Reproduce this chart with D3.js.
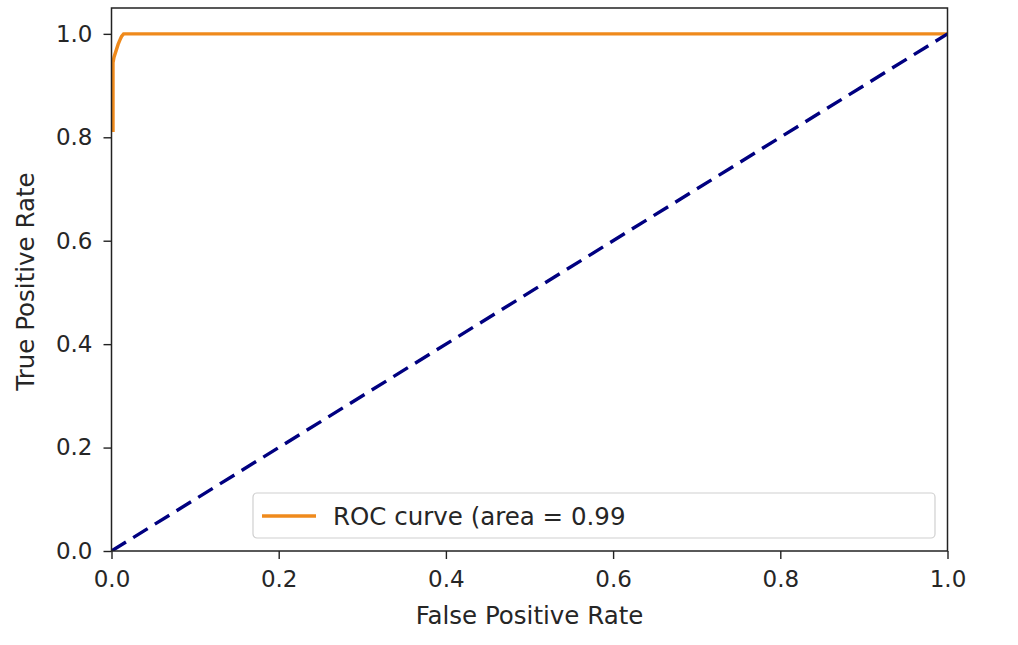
<!DOCTYPE html>
<html>
<head>
<meta charset="utf-8">
<script src="https://cdn.jsdelivr.net/npm/d3@7"></script>
<style>
  body { margin: 0; background: #fff; }
  text { font-family: "DejaVu Sans", sans-serif; fill: #262626; }
</style>
</head>
<body>
<div class="svgContainer"></div>
<script>
// ROC curve points
var fpr = [0.0018, 0.0018, 0.003, 0.006, 0.008, 0.010, 0.012, 0.0145, 0.3, 0.6, 1.0];
var tpr = [0.81, 0.944, 0.955, 0.97, 0.98, 0.988, 0.995, 1.0, 1.0, 1.0, 1.0];
var chanceX = [0, 1];
var chanceY = [0, 1];
var xTicks = [0, 0.2, 0.4, 0.6, 0.8, 1.0];
var yTicks = [0, 0.2, 0.4, 0.6, 0.8, 1.0];
var legendLabel = 'ROC curve (area = 0.99';

var w = 1018;
var h = 645;
var padL = 111.5, padR = 947.5, padT = 8, padB = 551;

var svg = d3.select(".svgContainer")
            .append("svg")
            .attr("width", w)
            .attr("height", h);

var xScale = d3.scaleLinear()
               .domain([0, 1])
               .range([padL, padR]);

var yScale = d3.scaleLinear()
               .domain([0, 1.05])
               .range([padB, padT]);

svg.append("defs")
   .append("clipPath")
   .attr("id", "plotClip")
   .append("rect")
   .attr("x", padL)
   .attr("y", padT)
   .attr("width", padR - padL)
   .attr("height", padB - padT);

var line = d3.line()
             .x(function (d) { return xScale(d[0]); })
             .y(function (d) { return yScale(d[1]); });

var plot = svg.append("g").attr("clip-path", "url(#plotClip)");

plot.append("path")
    .datum(fpr.map(function (d, i) { return [d, tpr[i]]; }))
    .attr("d", line)
    .attr("fill", "none")
    .attr("stroke", "#ef8a1c")
    .attr("stroke-width", 3.4);

plot.append("path")
    .datum(chanceX.map(function (d, i) { return [d, chanceY[i]]; }))
    .attr("d", line)
    .attr("fill", "none")
    .attr("stroke", "#000080")
    .attr("stroke-width", 3.4)
    .attr("stroke-dasharray", "17,8.5");

// axes
var xAxis = d3.axisBottom(xScale)
              .tickValues(xTicks)
              .tickFormat(d3.format(".1f"))
              .tickSize(8)
              .tickPadding(12)
              .tickSizeOuter(0);

var yAxis = d3.axisLeft(yScale)
              .tickValues(yTicks)
              .tickFormat(d3.format(".1f"))
              .tickSize(8)
              .tickPadding(11)
              .tickSizeOuter(0);

var gx = svg.append("g")
            .attr("transform", "translate(0," + padB + ")")
            .call(xAxis);

var gy = svg.append("g")
            .attr("transform", "translate(" + padL + ",0)")
            .call(yAxis);

[gx, gy].forEach(function (g) {
  g.select(".domain").remove();
  g.selectAll(".tick line").attr("stroke", "#222").attr("stroke-width", 1.4);
  g.selectAll(".tick text")
   .style("font-family", "DejaVu Sans, sans-serif")
   .style("font-size", "23px")
   .attr("fill", "#262626");
});

// frame
svg.append("rect")
   .attr("x", padL)
   .attr("y", padT)
   .attr("width", padR - padL)
   .attr("height", padB - padT)
   .attr("fill", "none")
   .attr("stroke", "#222")
   .attr("stroke-width", 1.5);

svg.append("text")
   .attr("x", (padL + padR) / 2)
   .attr("y", 624)
   .attr("text-anchor", "middle")
   .style("font-size", "24.5px")
   .text("False Positive Rate");

svg.append("text")
   .attr("transform", "rotate(-90)")
   .attr("x", -(padT + padB) / 2 - 2)
   .attr("y", 34)
   .attr("text-anchor", "middle")
   .style("font-size", "24.5px")
   .text("True Positive Rate");

// legend
var legend = svg.append("g");

legend.append("rect")
      .attr("x", 253)
      .attr("y", 493)
      .attr("width", 682)
      .attr("height", 45)
      .attr("rx", 4)
      .attr("fill", "#fff")
      .attr("fill-opacity", 0.8)
      .attr("stroke", "#d0d0d0")
      .attr("stroke-width", 1.2);

legend.append("line")
      .attr("x1", 262)
      .attr("x2", 316)
      .attr("y1", 516)
      .attr("y2", 516)
      .attr("stroke", "#ef8a1c")
      .attr("stroke-width", 3.4);

legend.append("text")
      .attr("x", 333)
      .attr("y", 525)
      .style("font-size", "24.5px")
      .text(legendLabel);
</script>
</body>
</html>
